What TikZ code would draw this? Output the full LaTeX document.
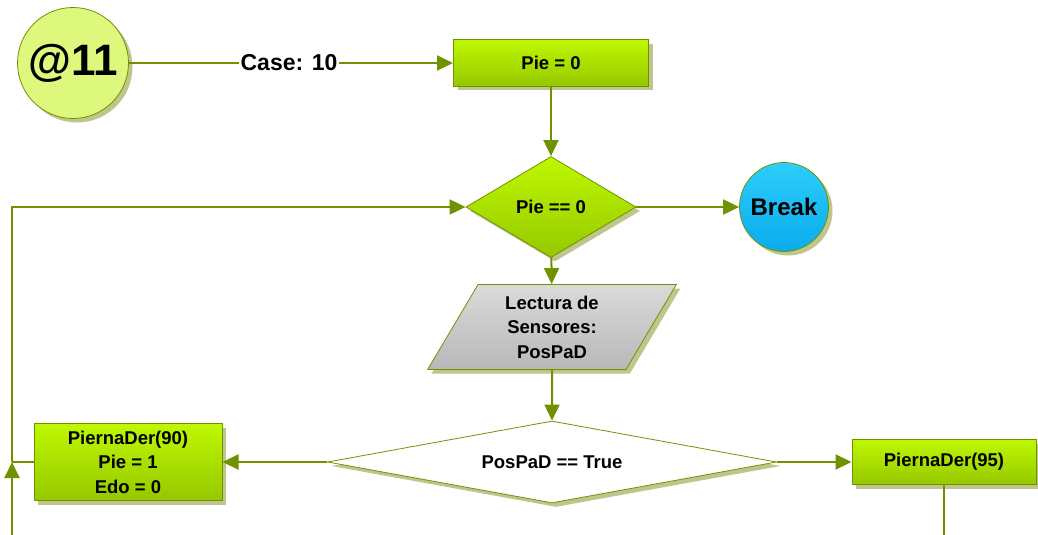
\documentclass[tikz,border=0pt]{standalone}
\usepackage{fontspec}
\setmainfont{Liberation Sans}
\usepackage{xcolor}
\usepackage{tikz}
\usetikzlibrary{shapes.geometric,arrows.meta,shadows}

\definecolor{lineolive}{RGB}{112,146,0}
\definecolor{limetop}{RGB}{190,248,0}
\definecolor{limebot}{RGB}{150,200,0}
\definecolor{startfill}{RGB}{222,248,125}
\definecolor{breaktop}{RGB}{45,205,252}
\definecolor{breakbot}{RGB}{10,172,236}
\definecolor{graytop}{RGB}{218,218,218}
\definecolor{graybot}{RGB}{184,184,184}
\definecolor{shadowolive}{RGB}{190,198,140}

\begin{document}
\begin{tikzpicture}[x=1pt,y=-1pt,
    conn/.style={draw=lineolive, line width=2pt},
    arr/.style={conn, -{Triangle[length=16pt,width=15pt]}},
    softshadow/.style={drop shadow={shadow xshift=4pt,shadow yshift=-4pt,fill=shadowolive,opacity=1}},
    txt/.style={font=\bfseries\fontsize{18.5}{24.5}\selectfont, align=center},
    proc/.style={txt, draw=lineolive, line width=1pt, top color=limetop, bottom color=limebot, softshadow, inner sep=0pt}]
    \useasboundingbox (0,0) rectangle (1038,535);

    % Start circle
    \node[draw=lineolive, line width=0.8pt, circle, fill=startfill, minimum size=111pt, softshadow,
          font=\bfseries\fontsize{44}{48}\selectfont] (start) at (73,63) {@11};

    % Case label on the first line
    \node[font=\bfseries\fontsize{23}{25}\selectfont, inner sep=1pt] (caselbl) at (289,63) {Case: 10};

    % Pie = 0
    \node[proc, minimum width=195pt, minimum height=46pt] (pie0) at (551,63) {Pie = 0};

    % Loop test
    \node[txt, draw=lineolive, line width=0.8pt, diamond, aspect=1.7, inner sep=0pt,
          minimum width=170pt, minimum height=101pt, top color=limetop, bottom color=limebot, softshadow] (chkpie) at (551,207) {Pie == 0};

    % Break
    \node[draw=lineolive, line width=0.8pt, circle, minimum size=89pt, top color=breaktop, bottom color=breakbot, softshadow,
          font=\bfseries\fontsize{24}{26}\selectfont] (brk) at (784,207) {Break};

    % Sensor reading
    \node[txt, draw=lineolive, line width=0.8pt, trapezium, trapezium left angle=63, trapezium right angle=117,
          trapezium stretches=true, minimum width=249pt, minimum height=85pt, inner sep=0pt,
          top color=graytop, bottom color=graybot, softshadow] (lectura) at (552,327) {Lectura de\\Sensores:\\PosPaD};

    % Sensor test
    \node[txt, draw=lineolive, line width=0.8pt, diamond, aspect=5.5, inner sep=0pt,
          minimum width=449pt, minimum height=82pt, fill=white, softshadow] (chkpos) at (552,462) {PosPaD == True};

    % Branches
    \node[proc, minimum width=188pt, minimum height=77pt] (der90) at (128,462) {PiernaDer(90)\\Pie = 1\\Edo = 0};
    \node[proc, minimum width=184pt, minimum height=45pt] (der95) at (944,462) {PiernaDer(95)};

    % Loop corners
    \coordinate (join) at (12,462);
    \coordinate (lowL) at (12,536);
    \coordinate (lowR) at (der95.south |- lowL);
    \coordinate (upL) at (join |- chkpie.west);

    \draw[conn] (start) -- (caselbl);
    \draw[arr] (caselbl) -- (pie0);
    \draw[arr] (pie0) -- (chkpie);
    \draw[arr] (chkpie) -- (brk);
    \draw[arr] (chkpie) -- (lectura);
    \draw[arr] (lectura) -- (chkpos);
    \draw[arr] (chkpos) -- (der90);
    \draw[arr] (chkpos) -- (der95);
    \draw[conn] (der90) -- (join);
    \draw[arr] (der95) -- (lowR) -- (lowL) -- (join);
    \draw[arr] (join) -- (upL) -- (chkpie);
\end{tikzpicture}
\end{document}
